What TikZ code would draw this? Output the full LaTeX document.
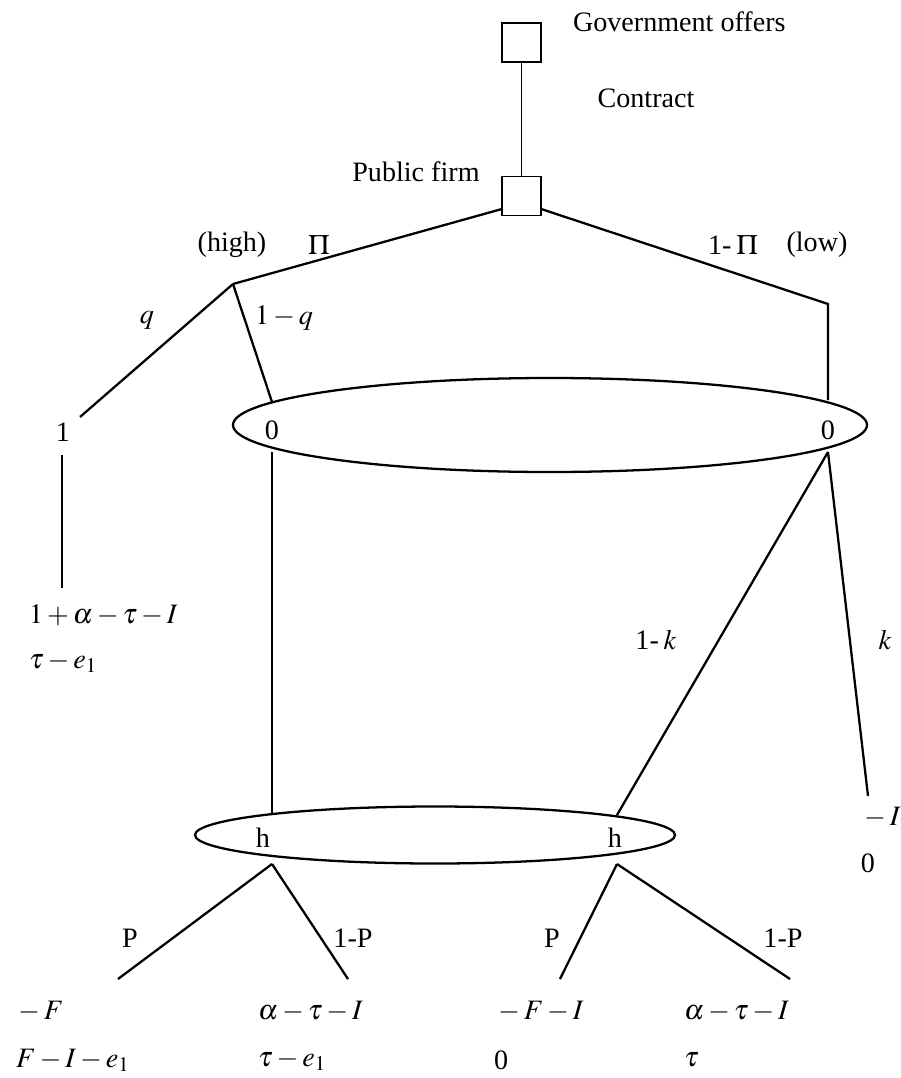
\documentclass[tikz,border=0pt]{standalone}
\usepackage{mathptmx}
\usepackage{fontspec}
\setmainfont{Liberation Serif}

\begin{document}
\begin{tikzpicture}[x=0.02cm, y=-0.02cm, line width=1.3pt,
  every node/.style={font=\fontsize{16}{19}\selectfont},
  player/.style={draw, line width=0.8pt, minimum size=0.78cm, inner sep=0pt},
  pay/.style={anchor=west, inner sep=0pt}]
\useasboundingbox (0,0) rectangle (900,1078);

%% contract stage
\node[player] (gov) at (521.5,42.5) {};
\node[player] (firm) at (521.5,196) {};
\draw[line width=0.7pt] (gov) -- (firm);

\node[anchor=west] (govtext) at (566,22) {Government offers};
\node (contract) at (646,98) {Contract};
\node (firmtext) at (416,172) {Public firm};

%% nature: high or low
\coordinate (high) at (233,284);
\coordinate (low) at (828,304);
\coordinate (lowend) at (828,400);
\draw (firm.south west) ++(0,4pt) coordinate (fl) -- (high);
\draw (firm.south east) ++(0,4pt) coordinate (fr) -- (low) -- (lowend);

\node (hightext) at (232,245) {(high)};
\node (pitext) at (319,245) {$\Pi$};
\node (lowpi) at (733,245) {1-\,$\Pi$};
\node (lowtext) at (817,245) {(low)};

%% q branch
\coordinate (qend) at (80,417);
\coordinate (qnotend) at (272,402);
\draw (high) -- (qend);
\draw (high) -- (qnotend);
\node (qlab) at (147,320) {$q$};
\node (qnotlab) at (284,318) {$1-q$};

\node (one) at (63,432) {1};
\coordinate (onetop) at (62,455);
\coordinate (onebot) at (62,588);
\draw (onetop) -- (onebot);
\node[pay] (payone) at (28,615) {$1+\alpha-\tau-I$};
\node[pay] (payonb) at (28,662) {$\tau-e_1$};

%% first information set
\coordinate (upset) at (550,425);
\draw (upset) ellipse [x radius=317, y radius=47];
\node (zeroA) at (272,430) {0};
\node (zeroB) at (828,430) {0};

\coordinate (zA) at (272,452);
\coordinate (zB) at (828,452);
\coordinate (hAtop) at (272,813);
\coordinate (hBtop) at (617,815);
\coordinate (kend) at (868,796);
\draw (zA) -- (hAtop);
\draw (zB) -- (hBtop);
\draw (zB) -- (kend);

\node (klab) at (656,640) {1-\,$k$};
\node (knlab) at (885,640) {$k$};
\node[pay] (payk) at (859,818) {${}-I$};
\node (payk2) at (868,863) {0};

%% second information set
\coordinate (downset) at (435,835);
\draw (downset) ellipse [x radius=240, y radius=28.5];
\node (hA) at (263,838) {h};
\node (hB) at (615,838) {h};

\coordinate (hAbot) at (272,864);
\coordinate (hBbot) at (617,864);
\coordinate (pA) at (118,979);
\coordinate (qA) at (348,979);
\coordinate (pB) at (560,979);
\coordinate (qB) at (790,979);
\draw (hAbot) -- (pA);
\draw (hAbot) -- (qA);
\draw (hBbot) -- (pB);
\draw (hBbot) -- (qB);

\node (pAlab) at (130,938) {P};
\node (qAlab) at (353,938) {1-P};
\node (pBlab) at (552,938) {P};
\node (qBlab) at (783,938) {1-P};

%% payoffs
\node[pay] (pay1a) at (13,1012) {${}-F$};
\node[pay] (pay1b) at (15,1060) {$F-I-e_1$};
\node[pay] (pay2a) at (257,1012) {$\alpha-\tau-I$};
\node[pay] (pay2b) at (257,1060) {$\tau-e_1$};
\node[pay] (pay3a) at (493,1012) {${}-F-I$};
\node[pay] (pay3b) at (493,1060) {0};
\node[pay] (pay4a) at (683,1012) {$\alpha-\tau-I$};
\node[pay] (pay4b) at (683,1060) {$\tau$};
\end{tikzpicture}
\end{document}
